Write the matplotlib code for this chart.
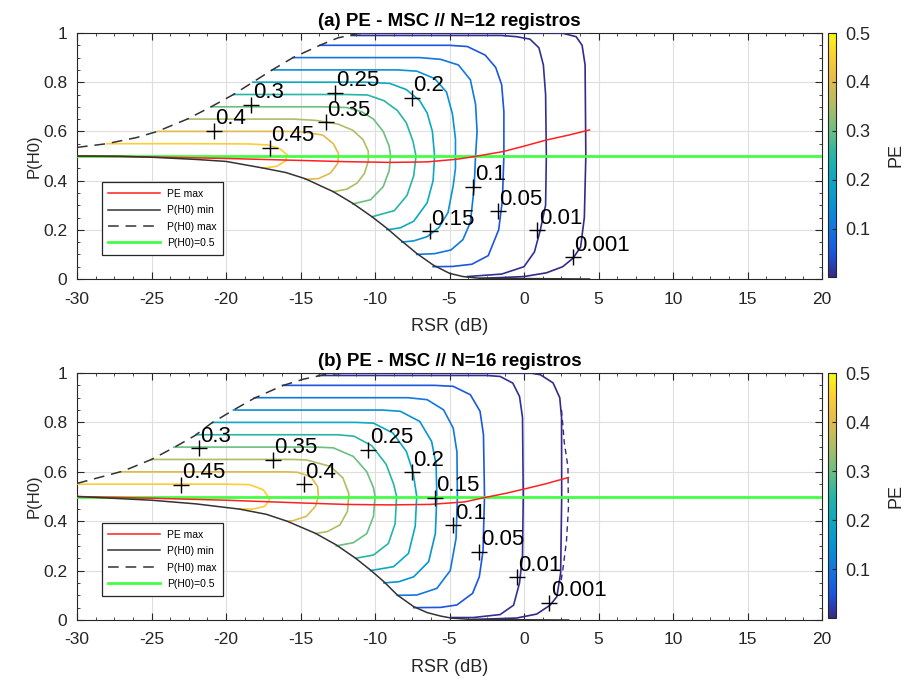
import matplotlib
matplotlib.use('Agg')
import matplotlib.pyplot as plt
from matplotlib.colors import LinearSegmentedColormap, Normalize
from matplotlib.cm import ScalarMappable
from matplotlib.ticker import AutoMinorLocator, MultipleLocator

plt.rcParams['font.family'] = ['Liberation Sans', 'DejaVu Sans']
plt.rcParams['axes.unicode_minus'] = False

# contour levels (PE)
levels = [0.001, 0.01, 0.05, 0.1, 0.15, 0.2, 0.25, 0.3, 0.35, 0.4, 0.45]

# ---------------- panel (a): N=12 ----------------
a_pmax = [(-30, .535), (-28, .55), (-26, .575), (-24.6, .6), (-22.6, .65), (-21.0, .7),
          (-19.5, .75), (-18.2, .8), (-16.9, .85), (-15.5, .9), (-13.7, .95), (-12.5, .98),
          (-11.2, .997), (-10, 1.0), (4.4, 1.0)]
a_pmin = [(-30, .5), (-27, .499), (-25, .495), (-22, .486), (-20, .478), (-17.6, .452),
          (-16, .433), (-14.7, .408), (-12.8, .355), (-11.5, .308), (-10.2, .253), (-9.2, .206),
          (-8.3, .159), (-7.2, .104), (-6.1, .057), (-5.0, .023), (-4.1, .01), (-3, .003), (4.4, 0)]
a_pemax = [(-30, .5), (-25, .496), (-20, .49), (-15, .482), (-12, .477), (-9, .474), (-6.5, .476),
           (-4.5, .487), (-3.4, .497), (-1.4, .518), (0, .54), (1.5, .565), (3, .585), (4.4, .606)]

a_c0001 = [(-11.0, .999), (2.6, .999), (3.5, .985), (3.9, .95), (4.1, .87), (4.15, .5), (4.05, .25),
           (3.8, .13), (3.3, .085), (2.6, .05), (1.5, .025), (0, .01), (-3.0, .002)]
a_c001 = [(-11.6, .99), (-1.5, .99), (-0.5, .985), (0.4, .975), (1.0, .94), (1.3, .87), (1.45, .75),
          (1.5, .5), (1.45, .3), (1.1, .2), (0.7, .11), (0.0, .05), (-1.5, .02), (-3.8, .01)]
a_c005 = [(-13.7, .95), (-5, .95), (-3.8, .945), (-2.6, .91), (-1.9, .86), (-1.5, .79), (-1.35, .68),
          (-1.35, .5), (-1.45, .32), (-1.7, .2), (-2.4, .095), (-3.5, .06), (-4.8, .051), (-6.1, .05)]
a_c010 = [(-15.5, .9), (-7, .9), (-5.6, .893), (-4.4, .87), (-3.6, .81), (-3.25, .71), (-3.15, .6),
          (-3.25, .5), (-3.35, .37), (-3.6, .23), (-4.1, .16), (-4.9, .118), (-6.0, .103), (-7.2, .1)]
a_c015 = [(-16.9, .85), (-8.5, .85), (-7.2, .845), (-6.0, .815), (-5.2, .76), (-4.8, .67), (-4.6, .57),
          (-4.6, .45), (-4.75, .38), (-5.1, .27), (-5.7, .21), (-6.5, .172), (-7.4, .155), (-8.2, .15)]
a_c020 = [(-18.2, .8), (-10.5, .8), (-9.0, .795), (-7.9, .77), (-7.0, .725), (-6.5, .675), (-6.15, .6),
          (-6.0, .5), (-6.1, .4), (-6.5, .31), (-7.4, .235), (-8.3, .208), (-9.2, .2)]
a_c025 = [(-19.5, .75), (-12, .75), (-10.5, .748), (-9.4, .725), (-8.5, .685), (-7.9, .635),
          (-7.45, .56), (-7.25, .5), (-7.4, .42), (-7.85, .34), (-8.7, .278), (-10.2, .253)]
a_c030 = [(-21.0, .7), (-13.5, .7), (-11.9, .697), (-10.9, .68), (-10.1, .65), (-9.45, .6),
          (-9.05, .54), (-8.95, .5), (-9.05, .44), (-9.45, .375), (-10.3, .322), (-11.5, .305)]
a_c035 = [(-22.6, .65), (-15.5, .65), (-14, .645), (-12.5, .63), (-11.5, .605), (-10.8, .566),
          (-10.45, .52), (-10.45, .48), (-10.7, .43), (-11.2, .39), (-11.9, .365), (-12.8, .355)]
a_c040 = [(-24.6, .6), (-16, .6), (-14.8, .598), (-13.5, .585), (-12.8, .55), (-12.45, .51),
          (-12.5, .47), (-13.0, .43), (-13.8, .408), (-14.7, .405)]
a_c045 = [(-28.0, .55), (-22, .55), (-18.5, .549), (-17.2, .545), (-16.4, .53), (-15.9, .505),
          (-16.0, .48), (-16.6, .458), (-17.6, .45)]

a_lab_pts = [(3.3, .088), (0.9, .199), (-1.73, .276), (-3.4, .375), (-6.3, .195), (-7.55, .737),
             (-12.7, .758), (-18.3, .708), (-13.3, .638), (-20.8, .603), (-17.05, .533)]

# ---------------- panel (b): N=16 ----------------
b_pmax = [(-30, .553), (-26.9, .603), (-25, .65), (-23.5, .698), (-22.1, .746), (-21, .796),
          (-19.5, .85), (-18.1, .898), (-16.2, .949), (-14.8, .975), (-13.5, .992), (-12, 1.0), (3, 1.0)]
b_pmin = [(-30, .5), (-25, .485), (-22, .47), (-19.1, .449), (-17.3, .428), (-15.9, .4), (-14.0, .351),
          (-12.6, .304), (-11.3, .25), (-10.3, .202), (-9.4, .155), (-8.5, .101), (-7.4, .054),
          (-6.5, .03), (-5.6, .016), (-4.9, .008), (-3.5, .002), (3, 0)]
b_pemax = [(-30, .5), (-25, .493), (-20, .485), (-15, .474), (-12, .468), (-9, .466), (-6.3, .468),
           (-4, .478), (-2.7, .495), (-1.2, .513), (0.2, .533), (1.5, .552), (2.98, .577)]

b_c0001 = [(-12.5, .999), (0.5, .999), (1.1, .993), (1.95, .96), (2.4, .9), (2.52, .82), (2.53, .5),
           (2.46, .19), (2.2, .094), (1.75, .06), (0.85, .024), (-0.5, .008), (-3.4, .002)]
b_c001 = [(-13.8, .99), (-2.5, .99), (-1.6, .986), (-0.75, .959), (-0.3, .905), (-0.1, .82),
          (-0.05, .5), (-0.1, .26), (-0.3, .15), (-0.7, .06), (-1.6, .022), (-3.4, .01), (-4.9, .01)]
b_c005 = [(-16.2, .95), (-6, .95), (-4.75, .946), (-3.6, .912), (-2.95, .845), (-2.72, .75),
          (-2.65, .5), (-2.75, .28), (-3.0, .175), (-3.45, .108), (-4.5, .061), (-5.6, .051), (-7.4, .05)]
b_c010 = [(-18.1, .9), (-7.8, .9), (-6.5, .892), (-5.4, .851), (-4.75, .777), (-4.5, .68),
          (-4.47, .5), (-4.56, .33), (-4.95, .2), (-5.85, .128), (-7.2, .101), (-8.5, .1)]
b_c015 = [(-19.5, .85), (-9.5, .85), (-8.3, .845), (-7.0, .804), (-6.2, .723), (-5.9, .63),
          (-5.85, .5), (-5.95, .35), (-6.4, .236), (-7.4, .175), (-8.4, .155), (-9.4, .15)]
b_c020 = [(-20.9, .8), (-11.3, .8), (-10.1, .797), (-8.8, .757), (-7.9, .683), (-7.45, .6),
          (-7.2, .5), (-7.3, .38), (-7.75, .27), (-8.75, .216), (-10.3, .2)]
b_c025 = [(-22.0, .75), (-12.5, .75), (-11.4, .744), (-10.2, .705), (-9.25, .63), (-8.75, .55),
          (-8.55, .5), (-8.65, .39), (-9.1, .31), (-10.1, .263), (-11.3, .25)]
b_c030 = [(-23.5, .7), (-14, .7), (-12.8, .697), (-11.45, .662), (-10.55, .6), (-10.1, .535),
          (-10.0, .5), (-10.1, .42), (-10.55, .35), (-11.45, .313), (-12.6, .3)]
b_c035 = [(-25.0, .65), (-15.5, .65), (-14.6, .648), (-13.0, .622), (-12.15, .575), (-11.75, .51),
          (-11.85, .44), (-12.35, .385), (-13.2, .358), (-14.0, .35)]
b_c040 = [(-27.1, .6), (-16, .6), (-15.2, .598), (-14.3, .58), (-13.85, .54), (-13.8, .5),
          (-14.0, .46), (-14.6, .42), (-15.5, .402), (-15.9, .4)]
b_c045 = [(-30, .55), (-20, .55), (-18.4, .548), (-17.5, .527), (-17.05, .49), (-17.4, .46),
          (-18.2, .449), (-19.1, .45)]
# simulated 0.001 curve that separates from the theoretical one
b_c0001_sim = [(2.52, .85), (2.7, .72), (2.95, .62), (2.98, .45), (2.85, .32), (2.6, .2), (2.46, .15)]

b_lab_pts = [(1.7, .07), (-0.49, .173), (-3.0, .277), (-4.74, .385), (-5.97, .495), (-7.54, .599),
             (-10.45, .69), (-21.8, .696), (-16.87, .649), (-14.76, .55), (-23.04, .548)]

# parula-like colormap anchors
parula_pos = [0.0, 0.1, 0.2, 0.3, 0.4, 0.5, 0.6, 0.7, 0.8, 0.9, 1.0]
parula_rgb = [(0.208, 0.166, 0.529), (0.10, 0.34, 0.88), (0.07, 0.47, 0.87), (0.03, 0.58, 0.83),
              (0.05, 0.66, 0.76), (0.15, 0.71, 0.65), (0.42, 0.75, 0.51), (0.68, 0.74, 0.40),
              (0.88, 0.73, 0.30), (0.99, 0.80, 0.21), (0.976, 0.983, 0.054)]
parula = LinearSegmentedColormap.from_list('parula', list(zip(parula_pos, parula_rgb)))
norm = Normalize(vmin=0.001, vmax=0.5)

panels = [
    dict(title='(a) PE - MSC // N=12 registros', pmax=a_pmax, pmin=a_pmin, pemax=a_pemax,
         curves=[a_c0001, a_c001, a_c005, a_c010, a_c015, a_c020, a_c025, a_c030, a_c035, a_c040, a_c045],
         labs=a_lab_pts, sim=None,
         ax=[77/906, 1-279/686, 745/906, 246/686], cax=[828/906, 1-277/686, 8/906, 244/686]),
    dict(title='(b) PE - MSC // N=16 registros', pmax=b_pmax, pmin=b_pmin, pemax=b_pemax,
         curves=[b_c0001, b_c001, b_c005, b_c010, b_c015, b_c020, b_c025, b_c030, b_c035, b_c040, b_c045],
         labs=b_lab_pts, sim=b_c0001_sim,
         ax=[77/906, 1-620/686, 745/906, 247/686], cax=[828/906, 1-618/686, 8/906, 245/686]),
]

fig = plt.figure(figsize=(9.06, 6.86), dpi=100)
dark = '#262626'

for p in panels:
    ax = fig.add_axes(p['ax'])
    for lev, pts in zip(levels, p['curves']):
        xs, ys = zip(*pts)
        ax.plot(xs, ys, color=parula(norm(lev)), lw=1.2, solid_joinstyle='round', zorder=3)
    if p['sim'] is not None:
        xs, ys = zip(*p['sim'])
        ax.plot(xs, ys, color=parula(norm(levels[0])), lw=1.0, ls=(0, (4, 3)), zorder=3)

    l4, = ax.plot([-30, 20], [0.5, 0.5], color='#44ff44', lw=2, zorder=3.5)
    xs, ys = zip(*p['pemax'])
    l1, = ax.plot(xs, ys, color='#ff2020', lw=1.1, zorder=4)
    xs, ys = zip(*p['pmin'])
    l2, = ax.plot(xs, ys, color='#333333', lw=1.1, zorder=4)
    xs, ys = zip(*p['pmax'])
    l3, = ax.plot(xs, ys, color='#333333', lw=1.1, ls=(0, (7, 4.5)), zorder=4)

    for lev, (lx, ly) in zip(levels, p['labs']):
        ax.plot(lx, ly, marker='+', ms=11, mew=1.0, color='black', zorder=6)
        ax.annotate('%g' % lev, (lx, ly), xytext=(1, 1), textcoords='offset points',
                    fontsize=16, ha='left', va='bottom', color='black', zorder=6)

    ax.set_xlim(-30, 20)
    ax.set_ylim(0, 1)
    ax.xaxis.set_major_locator(MultipleLocator(5))
    ax.yaxis.set_major_locator(MultipleLocator(0.2))
    ax.xaxis.set_minor_locator(AutoMinorLocator(4))
    ax.yaxis.set_minor_locator(AutoMinorLocator(4))
    ax.yaxis.set_major_formatter(plt.FuncFormatter(lambda v, _: '%g' % round(v, 2)))
    ax.grid(True, which='major', color='#dedede', lw=0.8, zorder=0)
    ax.set_axisbelow(True)
    ax.tick_params(which='both', direction='in', top=True, right=True, colors=dark, labelsize=12.5)
    ax.tick_params(axis='x', which='major', pad=9)
    ax.tick_params(axis='y', which='major', pad=7)
    ax.tick_params(which='major', length=5)
    ax.tick_params(which='minor', length=2.5)
    for s in ax.spines.values():
        s.set_color(dark)
        s.set_linewidth(0.8)
    ax.set_xlabel('RSR (dB)', fontsize=13, color=dark)
    ax.xaxis.set_label_coords(0.5, -0.157)
    ax.set_ylabel('P(H0)', fontsize=12, color=dark)
    ax.yaxis.set_label_coords(-0.047, 0.5)
    ax.set_title(p['title'], fontsize=13.5, fontweight='bold', color='black', pad=5)

    leg = ax.legend([l1, l2, l3, l4], ['PE max', 'P(H0) min', 'P(H0) max', 'P(H0)=0.5'],
                    loc='lower left', bbox_to_anchor=(0.033, 0.098), borderaxespad=0,
                    fontsize=7.5, handlelength=5.0, handletextpad=0.6, labelspacing=0.62,
                    fancybox=False, edgecolor=dark, framealpha=1, borderpad=0.65)
    leg.get_frame().set_linewidth(0.9)
    leg.set_zorder(7)

    cax = fig.add_axes(p['cax'])
    cb = fig.colorbar(ScalarMappable(norm=norm, cmap=parula), cax=cax)
    cb.set_ticks([0.1, 0.2, 0.3, 0.4, 0.5])
    cb.ax.tick_params(direction='in', length=3, labelsize=13, colors=dark, pad=7)
    cb.outline.set_edgecolor(dark)
    cb.outline.set_linewidth(0.8)
    cb.set_label('PE', fontsize=13, color=dark, labelpad=12)

fig.savefig('out.png', dpi=100)
